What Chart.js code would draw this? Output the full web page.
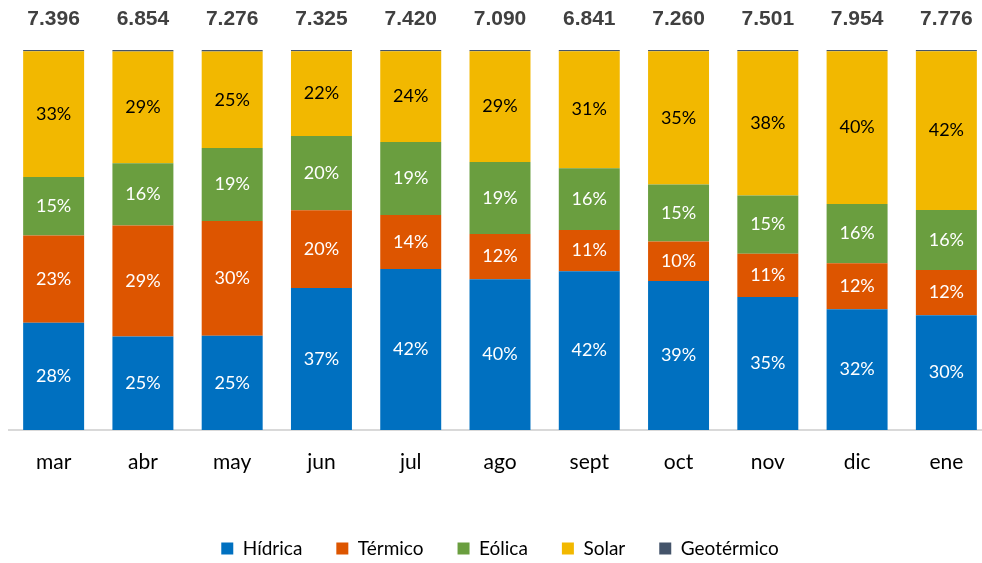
<!DOCTYPE html>
<html>
<head>
<meta charset="utf-8">
<script src="https://cdn.jsdelivr.net/npm/chart.js@4.4.1/dist/chart.umd.min.js"></script>
<style>
  html, body { margin:0; padding:0; background:#fff; overflow:hidden; }
  #wrap { width:991px; height:563px; }
</style>
</head>
<body>
<div id="wrap"><canvas id="chart"></canvas></div>
<script>
// meses y totales (GWh)
const meses = ['mar', 'abr', 'may', 'jun', 'jul', 'ago', 'sept', 'oct', 'nov', 'dic', 'ene'];
const totales = ['7.396', '6.854', '7.276', '7.325', '7.420', '7.090', '6.841', '7.260', '7.501', '7.954', '7.776'];

// participación % por fuente
const hidrica    = [28.2, 24.6, 24.8, 37.4, 42.4, 39.7, 41.8, 39.2, 35.0, 31.8, 30.2];
const termico    = [23.0, 29.2, 30.2, 20.4, 14.2, 11.9, 10.8, 10.4, 11.4, 12.1, 11.9];
const eolica     = [15.4, 16.4, 19.2, 19.6, 19.2, 18.9, 16.3, 15.0, 15.3, 15.6, 15.8];
const solar      = [33.1, 29.4, 25.4, 22.3, 23.9, 29.2, 30.8, 35.1, 38.0, 40.2, 41.8];
const geotermico = [0.3, 0.4, 0.4, 0.3, 0.3, 0.3, 0.3, 0.3, 0.3, 0.3, 0.3];

const FONT = 'Lato, "Noto Sans", sans-serif';

// etiquetas dentro de las barras + totales arriba
const labelsPlugin = {
    id: 'barLabels',
    afterDatasetsDraw(chart) {
        const ctx = chart.ctx;
        ctx.save();
        ctx.textAlign = 'center';
        ctx.textBaseline = 'middle';
        chart.data.datasets.forEach((ds, i) => {
            if (!ds.showLabel) return;
            const meta = chart.getDatasetMeta(i);
            meta.data.forEach((bar, j) => {
                const v = ds.data[j];
                ctx.font = '18px ' + FONT;
                ctx.fillStyle = ds.labelColor;
                ctx.fillText(Math.round(v) + '%', bar.x, (bar.y + bar.base) / 2);
            });
        });
        const meta0 = chart.getDatasetMeta(0);
        ctx.font = 'bold 21px "Liberation Sans", Arial, sans-serif';
        ctx.fillStyle = '#404040';
        meta0.data.forEach((bar, j) => {
            ctx.fillText(totales[j], bar.x, 19);
        });
        ctx.restore();
    }
};

new Chart(document.getElementById('chart'), {
    type: 'bar',
    data: {
        labels: meses,
        datasets: [
            { label: 'Hídrica', data: hidrica, backgroundColor: '#0070C0', showLabel: true, labelColor: '#ffffff' },
            { label: 'Térmico', data: termico, backgroundColor: '#DD5500', showLabel: true, labelColor: '#ffffff' },
            { label: 'Eólica', data: eolica, backgroundColor: '#6A9E3F', showLabel: true, labelColor: '#ffffff' },
            { label: 'Solar', data: solar, backgroundColor: '#F2B800', showLabel: true, labelColor: '#000000' },
            { label: 'Geotérmico', data: geotermico, backgroundColor: '#44546A', showLabel: false }
        ]
    },
    options: {
        responsive: true,
        maintainAspectRatio: false,
        animation: false,
        datasets: { bar: { categoryPercentage: 1, barPercentage: 0.683 } },
        layout: { padding: { top: 50, left: 9, right: 0, bottom: -5 } },
        plugins: {
            legend: {
                position: 'bottom',
                labels: { boxWidth: 12, boxHeight: 12, padding: 34, color: '#000', font: { size: 19, family: FONT } }
            },
            tooltip: { enabled: false }
        },
        scales: {
            x: {
                stacked: true,
                grid: { display: false, drawTicks: false },
                border: { display: true, color: '#d9d9d9', width: 2 },
                ticks: { color: '#000', padding: 20, font: { size: 21, family: FONT } },
                afterFit(scale) { scale.height = 75; }
            },
            y: {
                stacked: true,
                display: false,
                min: 0,
                max: 100
            }
        }
    },
    plugins: [labelsPlugin]
});
</script>
</body>
</html>
